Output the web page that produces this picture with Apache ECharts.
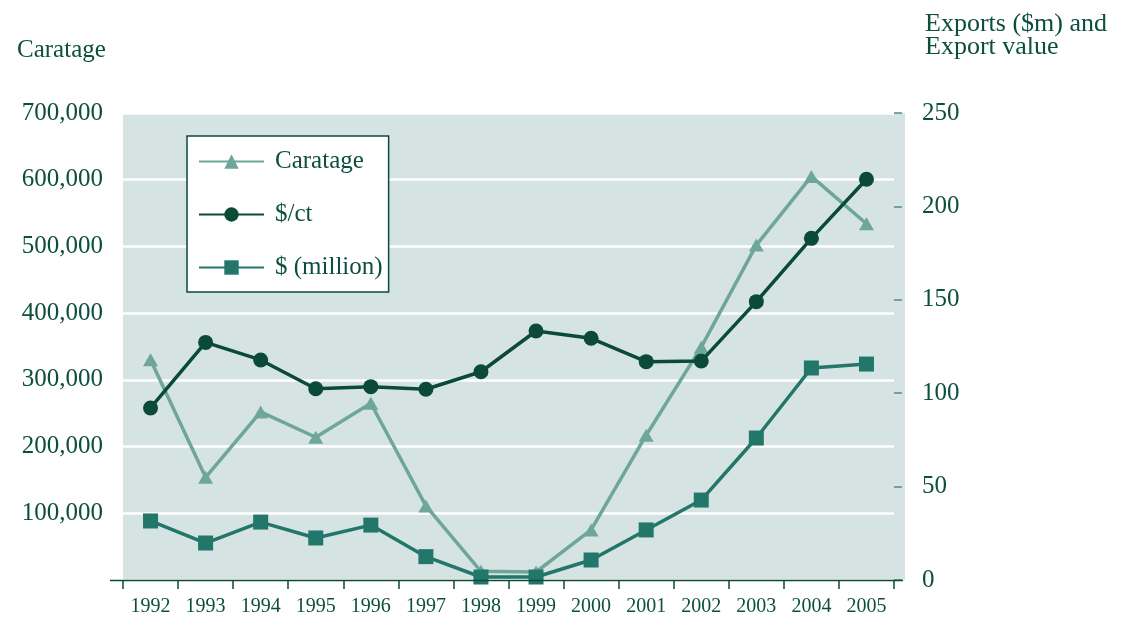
<!DOCTYPE html>
<html>
<head>
<meta charset="utf-8">
<script src="https://cdn.jsdelivr.net/npm/echarts@6/dist/echarts.min.js"></script>
<style>
  html, body { margin: 0; padding: 0; background: #fff; }
  #chart { width: 1122px; height: 623px; }
</style>
</head>
<body>
<div id="chart"></div>
<script>
// data
const years = ['1992', '1993', '1994', '1995', '1996', '1997', '1998',
               '1999', '2000', '2001', '2002', '2003', '2004', '2005'];
const caratage = [330000, 154000, 252000, 214000, 265000, 111000, 13000,
                  12000, 75000, 217000, 349000, 502000, 605000, 534000];
const perCarat = [92.1, 127.2, 117.8, 102.4, 103.5, 102.1, 111.5,
                  133.3, 129.4, 116.9, 117.2, 149, 182.9, 214.5];
const exportsMillion = [31.6, 19.8, 31, 22.5, 29.4, 12.5, 1.6,
                        1.6, 10.7, 26.8, 42.8, 76, 113.5, 115.6];
const leftTicks = [0, 700000, 100000];   // min, max, step
const rightTicks = [0, 250, 50];

const FONT = '"Liberation Serif", "DejaVu Serif", serif';
const TEXT = '#0d4f3e';
const C_CARAT = '#6fa69b';
const C_PRICE = '#0a4a37';
const C_MILL = '#23766a';

const chart = echarts.init(document.getElementById('chart'));

const option = {
  animation: false,
  textStyle: { fontFamily: FONT, color: TEXT },
  title: [
    {
      text: 'Caratage',
      left: 12, top: 33,
      textStyle: { fontFamily: FONT, fontWeight: 'normal', fontSize: 25, color: TEXT }
    },
    {
      text: 'Exports ($m) and\nExport value',
      left: 920, top: 8,
      textStyle: { fontFamily: FONT, fontWeight: 'normal', fontSize: 26, lineHeight: 23, color: TEXT }
    }
  ],
  graphic: [
    // plot background (runs a little past the last tick on the right)
    { type: 'rect', z: -10, shape: { x: 123, y: 113, width: 782, height: 467 },
      style: { fill: '#d5e4e2' } },
    // x axis line extends slightly beyond the plot
    { type: 'line', z: 10, shape: { x1: 110, y1: 580.5, x2: 903, y2: 580.5 },
      style: { stroke: C_PRICE, lineWidth: 1.5 } }
  ],
  legend: {
    orient: 'vertical',
    left: 187, top: 136,
    backgroundColor: '#fff',
    borderColor: C_PRICE,
    borderWidth: 1.5,
    borderRadius: 0,
    padding: [13, 6, 12, 11],
    itemWidth: 65,
    itemHeight: 18,
    itemGap: 28,
    lineStyle: { width: 2 },
    textStyle: { fontFamily: FONT, fontSize: 25, color: TEXT, padding: [0, 0, 0, 6] },
    data: ['Caratage', '$/ct', '$ (million)']
  },
  grid: { left: 123, right: 228, top: 113, bottom: 43, containLabel: false },
  xAxis: {
    type: 'category',
    data: years,
    boundaryGap: true,
    axisLine: { show: false },
    axisTick: { show: true, alignWithLabel: false, length: 9, lineStyle: { color: C_PRICE, width: 1.5 } },
    axisLabel: { fontFamily: FONT, fontSize: 20, color: TEXT, margin: 17 }
  },
  yAxis: [
    {
      type: 'value',
      min: leftTicks[0], max: leftTicks[1], interval: leftTicks[2],
      axisLine: { show: false },
      axisTick: { show: false },
      splitLine: { show: true, lineStyle: { color: '#ffffff', width: 2.5 } },
      axisLabel: {
        fontFamily: FONT, fontSize: 25, color: TEXT, margin: 20,
        showMinLabel: false,
        formatter: v => v.toLocaleString('en-US')
      }
    },
    {
      type: 'value',
      position: 'right',
      min: rightTicks[0], max: rightTicks[1], interval: rightTicks[2],
      axisLine: { show: false },
      axisTick: { show: true, length: 8, lineStyle: { color: '#4f8e82', width: 1.5 } },
      splitLine: { show: false },
      axisLabel: { fontFamily: FONT, fontSize: 25, color: TEXT, margin: 28 }
    }
  ],
  series: [
    {
      name: 'Caratage',
      type: 'line',
      yAxisIndex: 0,
      data: caratage,
      symbol: 'triangle',
      symbolSize: [15, 13],
      z: 2,
      lineStyle: { color: C_CARAT, width: 3.5 },
      itemStyle: { color: C_CARAT }
    },
    {
      name: '$/ct',
      type: 'line',
      yAxisIndex: 1,
      data: perCarat,
      symbol: 'circle',
      symbolSize: 15,
      z: 3,
      lineStyle: { color: C_PRICE, width: 3.5 },
      itemStyle: { color: C_PRICE }
    },
    {
      name: '$ (million)',
      type: 'line',
      yAxisIndex: 1,
      data: exportsMillion,
      symbol: 'rect',
      symbolSize: 15,
      z: 4,
      lineStyle: { color: C_MILL, width: 3.5 },
      itemStyle: { color: C_MILL }
    }
  ]
};

chart.setOption(option);
</script>
</body>
</html>
